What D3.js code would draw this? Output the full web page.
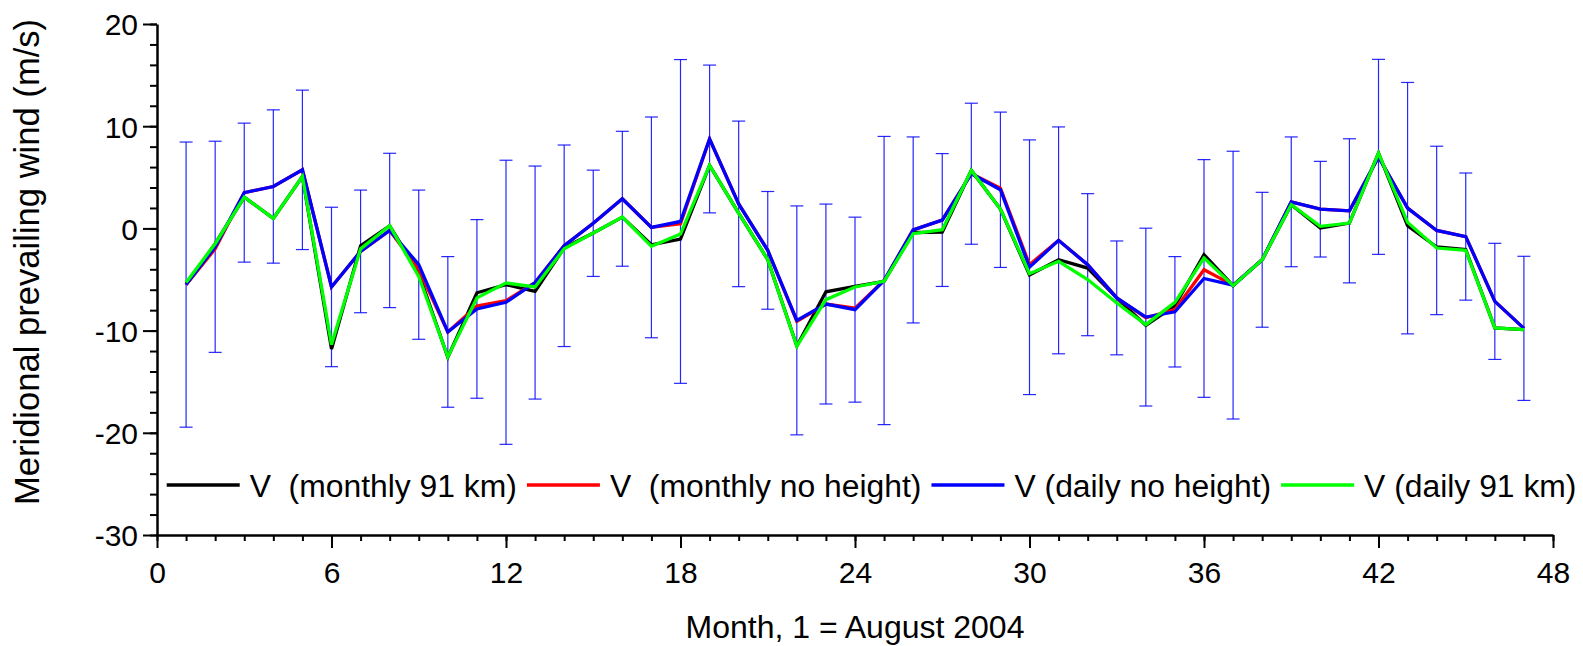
<!DOCTYPE html>
<html>
<head>
<meta charset="utf-8">
<script src="https://cdnjs.cloudflare.com/ajax/libs/d3/7.8.5/d3.min.js"></script>
<style>
  body { margin: 0; background: #fff; }
  text { font-family: "Liberation Sans", Arial, sans-serif; fill: #000; }
</style>
</head>
<body>
<div id="chart-area"></div>
<script>
/*
*   windChart.js
*   meridional prevailing wind, monthly vs daily fits
*/

// month number, 1 = August 2004
var months = d3.range(1, 48);

var vMonthly91 = [-5.5, -1.5, 3.06, 0.98, 5.08, -11.8, -1.7, 0.26, -4.4, -12.6,
  -6.3, -5.5, -6.16, -1.9, -0.45, 1.1, -1.6, -1.04, 6.16, 1.5,
  -3.06, -11.5, -6.2, -5.67, -5.18, -0.4, -0.36, 5.67, 1.89, -4.56,
  -3.06, -3.88, -6.8, -9.5, -7.56, -2.57, -5.6, -3.06, 2.31, 0.03,
  0.52, 7.36, 0.26, -1.82, -2.08, -9.74, -9.9];

var vMonthlyNoHeight = [-5.5, -2.0, 3.5, 4.1, 5.73, -5.73, -2.25, -0.2, -4.0, -10.13,
  -7.6, -7.07, -5.3, -1.7, 0.5, 2.9, 0.1, 0.46, 8.75, 2.4,
  -2.15, -9.1, -7.4, -7.8, -5.1, -0.15, 0.82, 5.35, 3.94, -3.55,
  -1.17, -3.55, -6.8, -8.75, -7.95, -4.04, -5.55, -3.07, 2.6, 1.88,
  1.72, 7.0, 1.98, -0.2, -0.8, -7.14, -9.78];

var vDailyNoHeight = [-5.5, -1.8, 3.5, 4.1, 5.73, -5.73, -2.25, -0.2, -3.55, -10.13,
  -7.88, -7.23, -5.3, -1.7, 0.5, 2.9, 0.1, 0.68, 8.75, 2.4,
  -2.15, -9.0, -7.4, -7.95, -5.1, -0.15, 0.82, 5.35, 3.78, -3.8,
  -1.17, -3.55, -6.8, -8.68, -8.16, -4.9, -5.55, -3.07, 2.6, 1.88,
  1.72, 7.0, 1.98, -0.2, -0.8, -7.14, -9.78];

var vDaily91 = [-5.3, -1.5, 3.06, 0.98, 5.08, -11.37, -2.0, 0.26, -4.7, -12.57,
  -6.8, -5.34, -5.73, -2.0, -0.45, 1.1, -1.76, -0.55, 6.16, 1.5,
  -3.06, -11.53, -6.97, -5.73, -5.18, -0.52, -0.13, 5.67, 1.89, -4.43,
  -3.22, -5.0, -7.3, -9.41, -7.23, -2.9, -5.6, -3.06, 2.31, 0.2,
  0.52, 7.36, 0.59, -1.92, -2.15, -9.74, -9.9];

// +/- error on the daily no height series
var vDailyErr = [13.95, 10.33, 6.8, 7.5, 7.8, 7.8, 6.0, 7.55, 7.3, 7.37,
  8.74, 13.9, 11.4, 9.86, 5.2, 6.6, 10.8, 15.84, 7.23, 8.1,
  5.76, 11.2, 9.78, 9.05, 14.1, 9.1, 6.5, 6.9, 7.6, 12.46,
  11.1, 6.95, 5.57, 8.7, 5.4, 11.63, 13.1, 6.6, 6.35, 4.68,
  7.05, 9.54, 12.3, 8.24, 6.22, 5.68, 7.05];

var xTicks = [0, 6, 12, 18, 24, 30, 36, 42, 48];
var yTicks = [-30, -20, -10, 0, 10, 20];

var seriesNames = ["V  (monthly 91 km)", "V  (monthly no height)", "V (daily no height)", "V (daily 91 km)"];
var seriesValues = [vMonthly91, vMonthlyNoHeight, vDailyNoHeight, vDaily91];


WindChart = function(_parentElement){
  var vis = this;
  vis.parentElement = _parentElement;
  vis.initVis();
};

WindChart.prototype.initVis = function(){
  var vis = this;

  vis.margin = { left:157, right:30, top:24, bottom:111 };
  vis.width = 1583 - vis.margin.left - vis.margin.right;
  vis.height = 646 - vis.margin.top - vis.margin.bottom;

  vis.svg = d3.select(vis.parentElement)
    .append("svg")
      .attr("width", 1583)
      .attr("height", 646);
  vis.g = vis.svg.append("g")
    .attr("transform", "translate(" + vis.margin.left + "," + vis.margin.top + ")");

  vis.x = d3.scaleLinear().domain([0, 48]).range([0, vis.width]);
  vis.y = d3.scaleLinear().domain([-30, 20]).range([vis.height, 0]);

  vis.colours = ["#000000", "#ff0000", "#0000ff", "#00ff00"];

  // plain hyphen for negatives, like the original
  vis.plain = function(d){ return String(d); };

  vis.wrangleData();
};

WindChart.prototype.wrangleData = function(){
  var vis = this;

  vis.series = seriesNames.map(function(name, i){
    return {
      name: name,
      colour: vis.colours[i],
      values: months.map(function(m, j){ return { month: m, v: seriesValues[i][j] }; })
    };
  });

  vis.errors = months.map(function(m, j){
    return { month: m, lo: vDailyNoHeight[j] - vDailyErr[j], hi: vDailyNoHeight[j] + vDailyErr[j] };
  });

  vis.updateVis();
};

WindChart.prototype.updateVis = function(){
  var vis = this;

  // minor ticks first, majors on top
  vis.g.append("g")
    .attr("transform", "translate(0," + vis.height + ")")
    .call(d3.axisBottom(vis.x).tickValues(d3.range(0, 49)).tickSize(6).tickFormat(""))
    .call(function(g){ g.select(".domain").remove(); })
    .selectAll("line").attr("stroke-width", 2);
  vis.g.append("g")
    .call(d3.axisLeft(vis.y).tickValues(d3.range(-30, 21, 2)).tickSize(7).tickFormat(""))
    .call(function(g){ g.select(".domain").remove(); })
    .selectAll("line").attr("stroke-width", 2);

  vis.xAxis = vis.g.append("g")
    .attr("transform", "translate(0," + vis.height + ")")
    .call(d3.axisBottom(vis.x).tickValues(xTicks).tickFormat(vis.plain)
      .tickSize(13).tickSizeOuter(0).tickPadding(14));
  vis.yAxis = vis.g.append("g")
    .call(d3.axisLeft(vis.y).tickValues(yTicks).tickFormat(vis.plain)
      .tickSize(14).tickSizeOuter(0).tickPadding(5));

  [vis.xAxis, vis.yAxis].forEach(function(a){
    a.select(".domain").attr("stroke-width", 2.5);
    a.selectAll(".tick line").attr("stroke-width", 2);
    a.selectAll(".tick text").attr("font-size", "30px").attr("font-family", null).attr("fill", "#000");
  });
  vis.yAxis.selectAll(".tick text").attr("dy", "0.36em");

  // error bars
  var cap = 6.5;
  var eb = vis.g.append("g").attr("stroke", "#0000ff").attr("stroke-width", 1.2).attr("stroke-opacity", 0.85);
  eb.selectAll(".stem").data(vis.errors).enter().append("line")
    .attr("x1", function(d){ return vis.x(d.month); })
    .attr("x2", function(d){ return vis.x(d.month); })
    .attr("y1", function(d){ return vis.y(d.lo); })
    .attr("y2", function(d){ return vis.y(d.hi); });
  ["lo", "hi"].forEach(function(k){
    eb.selectAll(".cap-" + k).data(vis.errors).enter().append("line")
      .attr("x1", function(d){ return vis.x(d.month) - cap; })
      .attr("x2", function(d){ return vis.x(d.month) + cap; })
      .attr("y1", function(d){ return vis.y(d[k]); })
      .attr("y2", function(d){ return vis.y(d[k]); });
  });

  var line = d3.line()
    .x(function(d){ return vis.x(d.month); })
    .y(function(d){ return vis.y(d.v); });

  vis.g.selectAll(".series").data(vis.series).enter().append("path")
    .attr("class", "series")
    .attr("fill", "none")
    .attr("stroke", function(d){ return d.colour; })
    .attr("stroke-width", 3.3)
    .attr("stroke-linejoin", "miter")
    .attr("d", function(d){ return line(d.values); });

  // legend, one row inside the plot
  var lx = 166.7, ly = 485;
  vis.series.forEach(function(s){
    vis.svg.append("line")
      .attr("x1", lx).attr("x2", lx + 73)
      .attr("y1", ly).attr("y2", ly)
      .attr("stroke", s.colour).attr("stroke-width", 3.3);
    var t = vis.svg.append("text")
      .attr("x", lx + 83).attr("y", ly + 12)
      .attr("font-size", "31.85px")
      .style("white-space", "pre")
      .text(s.name);
    lx = lx + 83 + t.node().getComputedTextLength() + 10;
  });

  // axis titles
  vis.svg.append("text")
    .attr("x", 855)
    .attr("y", 638)
    .attr("font-size", "32px")
    .attr("text-anchor", "middle")
    .text("Month, 1 = August 2004");

  vis.svg.append("text")
    .attr("transform", "translate(39," + 262 + ") rotate(-90)")
    .attr("font-size", "34.6px")
    .attr("text-anchor", "middle")
    .text("Meridional prevailing wind (m/s)");
};

new WindChart("#chart-area");
</script>
</body>
</html>
